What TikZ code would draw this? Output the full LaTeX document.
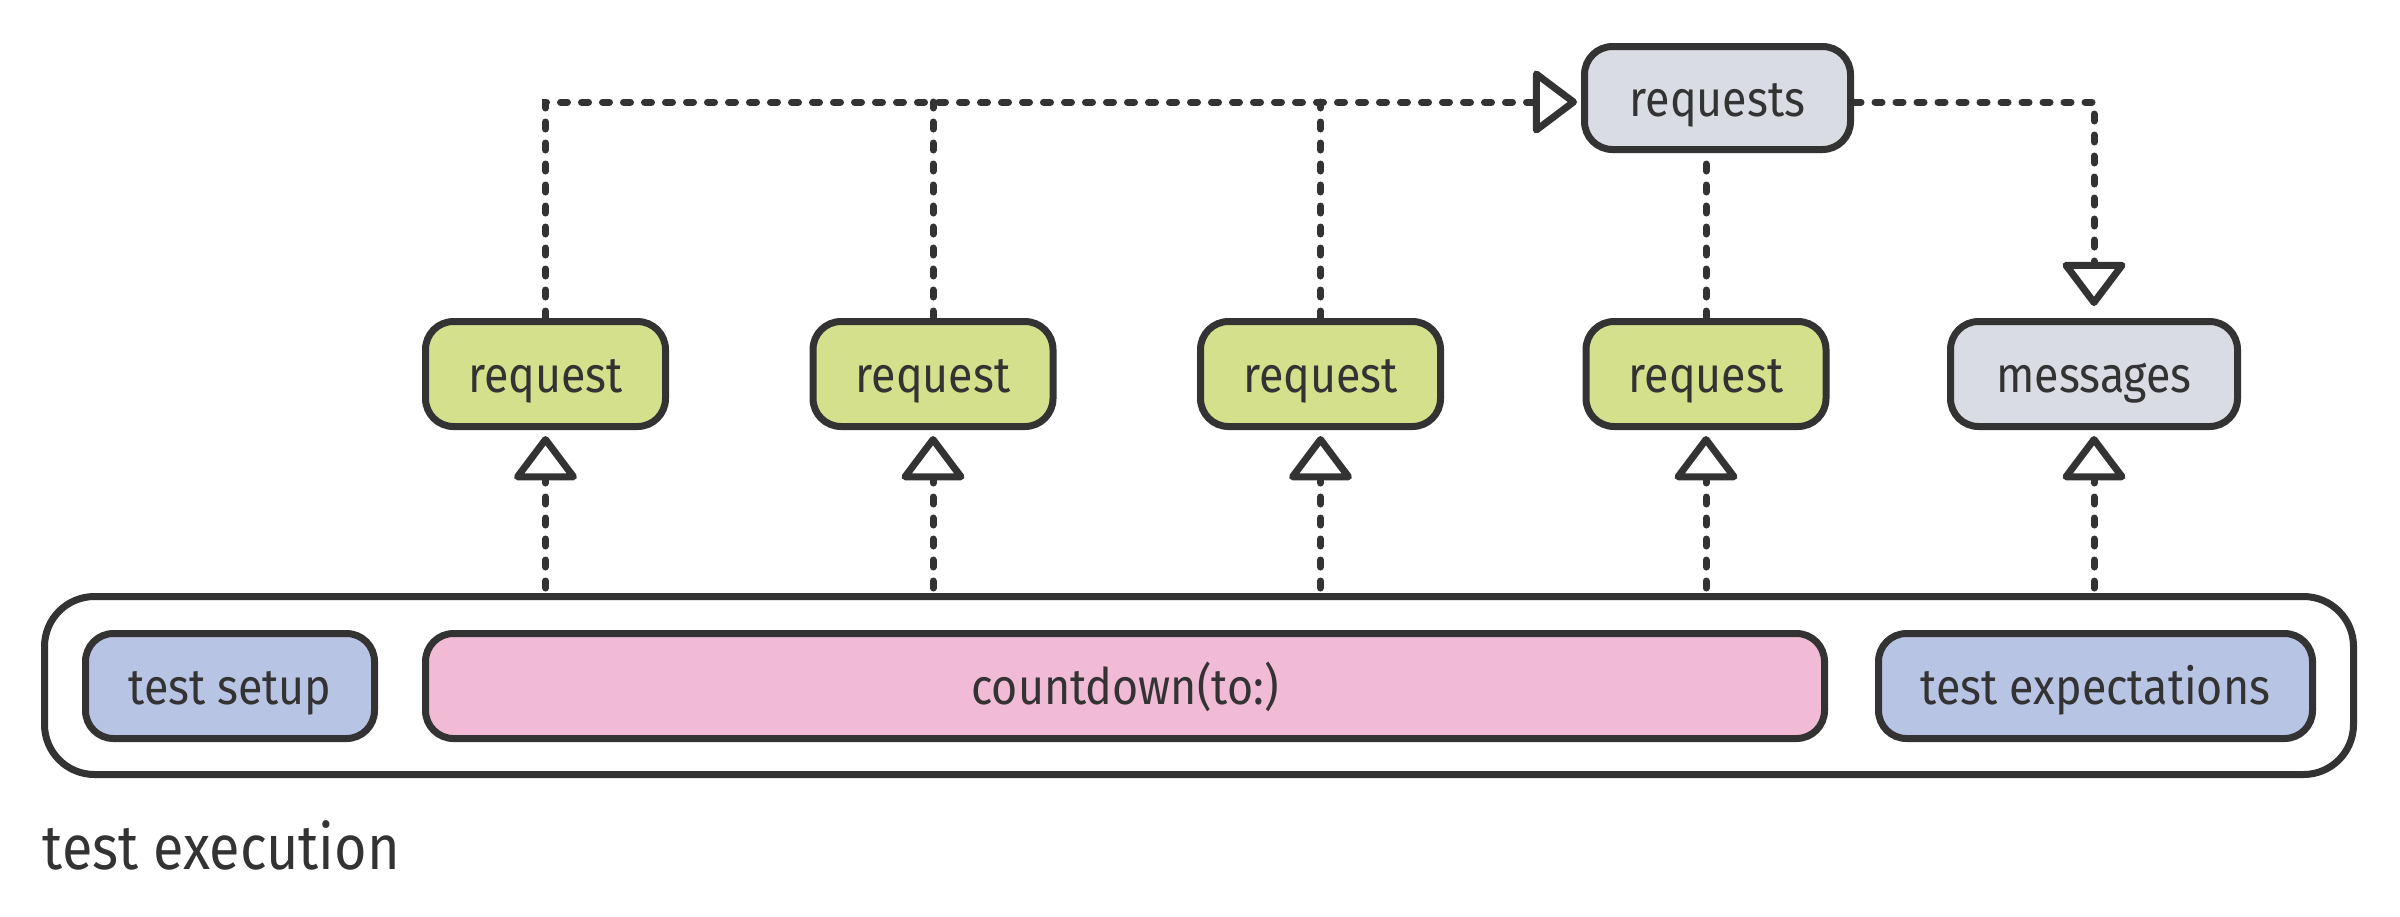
\documentclass[tikz,border=0pt]{standalone}
\usepackage{fontspec}
\setmainfont{Fira Sans}[FakeStretch=0.89]
\usetikzlibrary{arrows.meta}
\definecolor{ink}{HTML}{333333}
\definecolor{reqgreen}{HTML}{D5E08D}
\definecolor{msggrey}{HTML}{D9DCE3}
\definecolor{stepblue}{HTML}{B8C4E4}
\definecolor{cdpink}{HTML}{F1BBD6}
\tikzset{
  box/.style={draw=ink, line width=2.1pt, rounded corners=8.4pt, inner sep=0pt,
    minimum height=31.5pt, text=ink, font=\fontsize{15.1pt}{18pt}\selectfont,
    text height=12.5pt, text depth=1.7pt},
  reqbox/.style={box, fill=reqgreen, minimum width=72pt},
  greybox/.style={box, fill=msggrey},
  bluebox/.style={box, fill=stepblue},
  pinkbox/.style={box, fill=cdpink},
  frame/.style={draw=ink, line width=2.1pt, rounded corners=15pt, inner sep=0pt,
    minimum width=692.7pt, minimum height=53.4pt},
  dotline/.style={draw=ink, line width=2.1pt, line cap=round,
    dash pattern=on 2.1pt off 4.2pt},
  opentip/.style={-{Triangle[open, length=14pt, width=20.5pt, line join=round]}},
}
\begin{document}
\begin{tikzpicture}[x=0.3pt, y=-0.3pt]
\useasboundingbox (0,0) rectangle (2400,916);
% container
\node[frame] (exec) at (1199,685.5) {};
\node[bluebox, minimum width=86.7pt] (setup) at (230,686) {test setup};
\node[pinkbox, minimum width=419.7pt] (cd) at (1125,686) {countdown(to:)};
\node[bluebox, minimum width=130.2pt] (expect) at (2095.5,686) {test expectations};
\node[anchor=base west, text=ink, inner sep=0pt, font=\fontsize{18.8pt}{22pt}\selectfont] (lbl) at (42,869) {test execution};
% requests row
\node[reqbox] (r1) at (545.5,374) {request};
\node[reqbox] (r2) at (933,374) {request};
\node[reqbox] (r3) at (1320.5,374) {request};
\node[reqbox] (r4) at (1706,374) {request};
\node[greybox, minimum width=86.1pt] (msg) at (2094,374) {messages};
\node[greybox, minimum width=79.8pt, minimum height=30.9pt] (reqs) at (1717.5,98) {requests};
\coordinate (bus) at (0,102);
% arrows from container up
\foreach \n in {r1,r2,r3,r4,msg}{
  \draw[dotline, opentip, shorten >=1.8pt, shorten <=1.5pt] (\n.south |- exec.north) -- (\n.south);
}
% top collector line
\draw[dotline, opentip, shorten >=1.2pt] (r1.north) |- (reqs.west |- bus);
\draw[dotline] (r2.north) -- (r2.north |- bus);
\draw[dotline] (r3.north) -- (r3.north |- bus);
\draw[dotline] (r4.north) -- (r4.north |- reqs.south);
\draw[dotline, opentip, shorten >=3.6pt] (reqs.east |- bus) -| (msg.north);
\end{tikzpicture}
\end{document}
